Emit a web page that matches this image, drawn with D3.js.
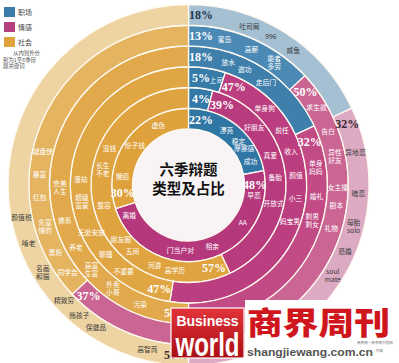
<!DOCTYPE html>
<html>
<head>
<meta charset="utf-8">
<script src="https://cdn.jsdelivr.net/npm/d3@7"></script>
<style>
  html, body { margin: 0; padding: 0; background: #fff; }
  svg { display: block; }
</style>
</head>
<body>
<svg id="chart" width="399" height="363"></svg>
<script>
// seasons run from the inner ring (1) to the outer ring (6)
const categories = ['职场', '情感', '社会'];
const seasons = ['第1季', '第2季', '第3季', '第4季', '第5季', '第6季'];
const workShare = [22, 4, 5, 18, 13, 18];
const loveShare = [48, 39, 47, 32, 50, 32];
const societyShare = [30, 57, 47, 50, 37, 50];

// keywords per ring: [text, angle in degrees clockwise from 12 o'clock]
const workWords = [
  [['漂亮', 35], ['稳定', 49], ['摩擦感', 57], ['成功', 69]],
  [],
  [['上司', 15]],
  [['放水', 18], ['邀功', 26], ['走后门', 37]],
  [['蜜岛', 14], ['高薪', 25], ['能者\n多劳', 35]],
  [['吐司局', 21], ['996', 29], ['咸鱼', 38]]
];
const loveWords = [
  [['早恋', 99], ['AA', 125], ['相亲', 159], ['门当户对', 187], ['离婚', 243]],
  [['好朋友', 49], ['真爱', 70], ['备胎', 85], ['开放式', 102]],
  [['单身狗', 45], ['前任', 60], ['收入', 72], ['颜值', 85], ['小三', 97], ['妈宝男', 110]],
  [['单身\n妈妈', 82], ['婚礼', 95], ['剩男\n剩女', 106]],
  [['求生欲', 59], ['告白', 69], ['异性\n好友', 79], ['女主播', 91], ['剧本', 98], ['礼物', 107]],
  [['异地恋', 79], ['暗恋', 93], ['母胎\nsolo', 104], ['恐婚', 113], ['soul\nmate', 122]]
];
const societyWords = [
  [['懒癌', 277], ['份子钱', 306], ['虚伪', 333]],
  [['高学历', 189], ['河游', 203], ['五间', 220], ['朋友圈', 231], ['整容', 256], ['长生\n不老', 280], ['没钱', 295]],
  [['不重要', 217], ['聊骚', 230], ['无处安放', 244], ['超级\n富豪', 261], ['渡劫', 273]],
  [['污染', 202], ['外卖\n小哥', 216], ['高富\n生富', 229], ['养老', 241], ['佛系', 254], ['完美\n人生', 269]],
  [['同学会', 234], ['黑粉', 243], ['先富\n懂的', 254], ['红包', 265], ['暴富', 274], ['键盘侠', 283]],
  [['高智商', 194], ['保健品', 213], ['熊孩子', 220], ['精致穷', 227], ['名画\n和猫', 239], ['啃老', 250], ['颜值税', 259]]
];

const shares = [workShare, loveShare, societyShare];
const words = [workWords, loveWords, societyWords];

// colours, inner ring → outer ring
const shades = {
  '职场': ['#2f76a4', '#3379a7', '#377ca9', '#3e7fac', '#4b8ab5', '#a6c0d3'],
  '情感': ['#b5377c', '#b83b7e', '#bb3f80', '#c24a85', '#cb6694', '#dcabc3'],
  '社会': ['#dea13b', '#dfa33f', '#e0a644', '#e1a94b', '#e4b461', '#eed4a2']
};
const legendColor = { '职场': '#3a7ca8', '情感': '#b5407f', '社会': '#e0a33c' };
// percentage labels that sit just before their segment instead of just after
const pctBefore = ['社会-4'];

const cx = 188.5, cy = 185;
const svg = d3.select('#chart');

const rScale = d3.scaleBand().domain(seasons).range([56, 180.5]);
const toRad = d3.scaleLinear().domain([0, 360]).range([0, 2 * Math.PI]);
const pie = d3.pie().sort(null).value(d => d.value);
const arc = d3.arc();

const polar = (r, a) => [r * Math.sin(a), -r * Math.cos(a)];

const rings = seasons.map((s, i) => {
  const slices = pie(categories.map((c, k) => ({ cat: c, value: shares[k][i], words: words[k][i] })));
  return { season: s, i, r0: rScale(s), r1: rScale(s) + rScale.bandwidth(), slices };
});

const g = svg.append('g').attr('transform', `translate(${cx},${cy})`);

// ring segments
const segLayer = g.append('g');
rings.forEach(ring => {
  segLayer.selectAll(null)
    .data(ring.slices)
    .join('path')
    .attr('d', d => arc({ innerRadius: ring.r0, outerRadius: ring.r1, startAngle: d.startAngle, endAngle: d.endAngle }))
    .attr('fill', d => shades[d.data.cat][ring.i])
    .attr('stroke', '#fffaf0')
    .attr('stroke-width', 1.3);
});

// centre disc
g.append('circle').attr('r', rScale(seasons[0]) - 0.6).attr('fill', '#f8f4f5');

// keywords
const wordLayer = g.append('g')
  .attr('font-family', '"Noto Sans CJK SC", sans-serif')
  .attr('font-size', 6.8)
  .attr('text-anchor', 'middle');

rings.forEach(ring => {
  const rMid = (ring.r0 + ring.r1) / 2;
  ring.slices.forEach(sl => {
    sl.data.words.forEach(([txt, deg]) => {
      const [x, y] = polar(rMid, toRad(deg));
      const lines = txt.split('\n');
      const t = wordLayer.append('text')
        .attr('fill', ring.i === 5 ? '#3a3a3a' : '#fff');
      lines.forEach((ln, j) => {
        t.append('tspan')
          .attr('x', x)
          .attr('y', y + 2.4 + (j - (lines.length - 1) / 2) * 8)
          .text(ln);
      });
    });
  });
});

// percentage labels, placed next to the start of each segment
const pctLayer = g.append('g')
  .attr('font-family', '"Liberation Serif", "DejaVu Serif", serif')
  .attr('font-weight', 'bold')
  .attr('font-size', 12)
  .attr('text-anchor', 'middle');

rings.forEach(ring => {
  const rMid = (ring.r0 + ring.r1) / 2;
  ring.slices.forEach(sl => {
    const before = pctBefore.includes(sl.data.cat + '-' + ring.i);
    const a = sl.startAngle + (before ? -1 : 1) * 12.5 / rMid;
    const [x, y] = polar(rMid, a);
    pctLayer.append('text')
      .attr('x', x)
      .attr('y', y + 4)
      .attr('fill', ring.i === 5 ? (sl.data.cat === '职场' ? '#1f3550' : '#3a2a33') : '#fff')
      .text(sl.data.value + '%');
  });
});

// title
const title = g.append('g')
  .attr('font-family', '"Noto Sans CJK SC", sans-serif')
  .attr('font-weight', 'bold')
  .attr('font-size', 14.5)
  .attr('text-anchor', 'middle')
  .attr('fill', '#111');
title.append('text').attr('x', 0).attr('y', -10).text('六季辩题');
title.append('text').attr('x', 0).attr('y', 9).text('类型及占比');

// legend
const legend = svg.append('g')
  .attr('font-family', '"Noto Sans CJK SC", sans-serif')
  .attr('font-size', 7);
const legendY = d3.scalePoint().domain(categories).range([7, 37]);
categories.forEach(c => {
  legend.append('rect')
    .attr('x', 4).attr('y', legendY(c))
    .attr('width', 11).attr('height', 10)
    .attr('fill', legendColor[c]);
  legend.append('text')
    .attr('x', 18).attr('y', legendY(c) + 7.5)
    .attr('fill', '#444')
    .text(c);
});
const note = ['从内到外分', '别为1至6季辩', '题关键词'];
note.forEach((ln, j) => {
  legend.append('text')
    .attr('x', j === 0 ? 13 : 3)
    .attr('y', 55 + j * 6.5)
    .attr('font-size', 5.4)
    .attr('fill', '#555')
    .text(ln);
});

// publication logo
const defs = svg.append('defs');
const grad = defs.append('linearGradient').attr('id', 'redbox').attr('x1', 0).attr('y1', 0).attr('x2', 0).attr('y2', 1);
grad.append('stop').attr('offset', '0%').attr('stop-color', '#e2343a');
grad.append('stop').attr('offset', '100%').attr('stop-color', '#a90e14');

const logo = svg.append('g');
logo.append('rect').attr('x', 245).attr('y', 300).attr('width', 154).attr('height', 63).attr('fill', '#fff');
logo.append('rect').attr('x', 171).attr('y', 308).attr('width', 73).attr('height', 50)
  .attr('fill', 'url(#redbox)').attr('stroke', '#fff').attr('stroke-width', 1.2);
logo.append('text').attr('x', 207.5).attr('y', 326).attr('text-anchor', 'middle')
  .attr('font-family', '"Liberation Sans", Arial, sans-serif').attr('font-weight', 'bold')
  .attr('font-size', 15).attr('fill', '#fff')
  .attr('textLength', 62).attr('lengthAdjust', 'spacingAndGlyphs')
  .text('Business');
logo.append('text').attr('x', 207.5).attr('y', 356).attr('text-anchor', 'middle')
  .attr('font-family', '"Liberation Sans Narrow", "Liberation Sans", Arial, sans-serif').attr('font-weight', 'bold')
  .attr('font-size', 33).attr('fill', '#fff')
  .attr('textLength', 64).attr('lengthAdjust', 'spacingAndGlyphs')
  .text('world');
logo.append('text').attr('x', 247).attr('y', 334)
  .attr('font-family', '"Noto Sans CJK SC", sans-serif').attr('font-weight', 900)
  .attr('font-size', 31).attr('fill', '#d0161d')
  .attr('textLength', 143).attr('lengthAdjust', 'spacingAndGlyphs')
  .text('商界周刊');
logo.append('text').attr('x', 247).attr('y', 356)
  .attr('font-family', '"Liberation Sans", Arial, sans-serif').attr('font-weight', 'bold')
  .attr('font-size', 11.5).attr('fill', '#555')
  .attr('textLength', 126).attr('lengthAdjust', 'spacingAndGlyphs')
  .text('shangjiewang.com.cn');
logo.append('text').attr('x', 357).attr('y', 344)
  .attr('font-family', '"Noto Sans CJK SC", sans-serif')
  .attr('font-size', 3.6).attr('fill', '#777')
  .text('商界网·商界周刊官网');
logo.append('text').attr('x', 376).attr('y', 352)
  .attr('font-family', '"Noto Sans CJK SC", sans-serif')
  .attr('font-size', 3.6).attr('fill', '#777')
  .text('内容');
</script>
</body>
</html>
